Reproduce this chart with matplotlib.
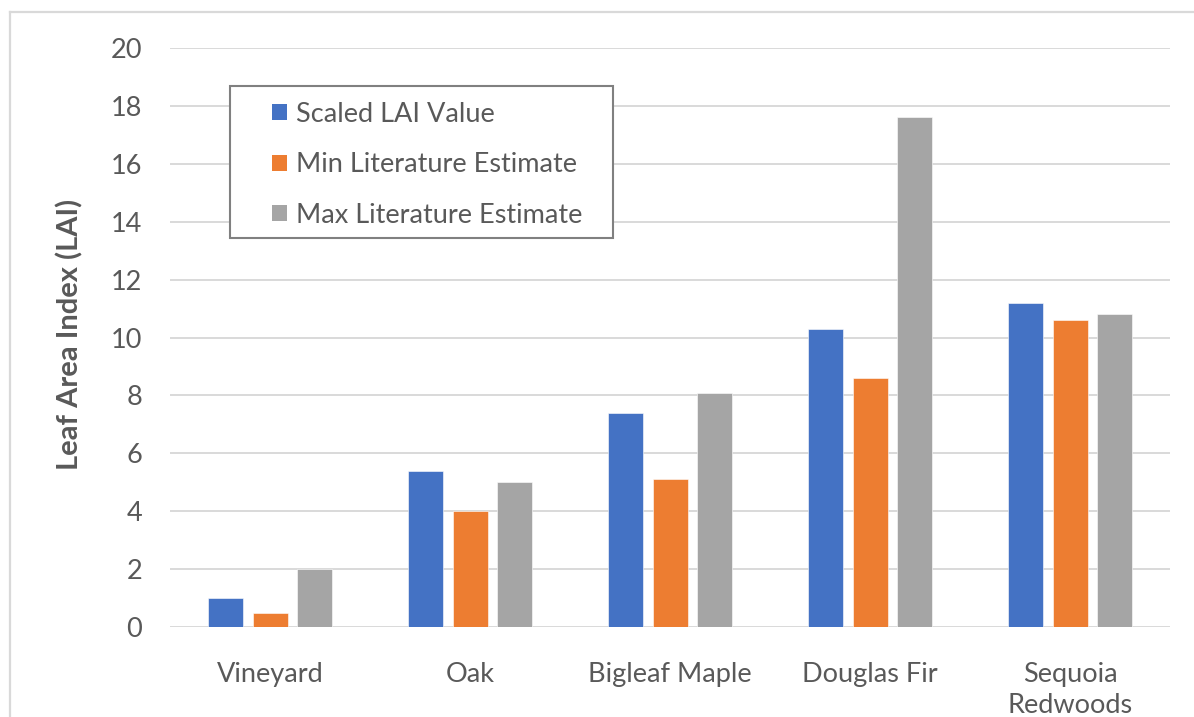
import matplotlib
matplotlib.use("Agg")
import matplotlib.pyplot as plt
from matplotlib.lines import Line2D
from matplotlib.patches import Rectangle
import numpy as np

plt.rcParams['font.family'] = ['Lato', 'DejaVu Sans']

# data
categories = ['Vineyard', 'Oak', 'Bigleaf Maple', 'Douglas Fir', 'Sequoia\nRedwoods']
scaled_lai = [1.0, 5.4, 7.4, 10.3, 11.2]
min_lit = [0.5, 4.0, 5.1, 8.6, 10.6]
max_lit = [2.0, 5.0, 8.1, 17.6, 10.8]
series_names = ['Scaled LAI Value', 'Min Literature Estimate', 'Max Literature Estimate']
colors = ['#4472C4', '#ED7D31', '#A5A5A5']

txt = '#595959'
grid = '#D9D9D9'
W, H = 1194, 717

fig = plt.figure(figsize=(W / 100, H / 100), dpi=100)
ax = fig.add_axes([170/W, 1 - 627/H, 1000/W, 579/H])

x = np.arange(len(categories))
step = 0.2215
width = 0.175
for i, (vals, c) in enumerate(zip([scaled_lai, min_lit, max_lit], colors)):
    ax.bar(x + (i - 1) * step, vals, width, color=c, zorder=3,
           edgecolor='white', linewidth=0.4)

ax.set_xlim(-0.5, len(categories) - 0.5)
ax.set_ylim(0, 20)
ax.set_yticks(np.arange(0, 21, 2))
ax.set_xticks(x)
ax.set_xticklabels(categories, linespacing=1.3)
ax.tick_params(axis='both', length=0, labelsize=19.5, colors=txt)
ax.tick_params(axis='y', pad=20)
ax.tick_params(axis='x', pad=25.5)
ax.grid(axis='y', color=grid, linewidth=1.4, zorder=0)
for s in ax.spines.values():
    s.set_visible(False)

fig.text(70/W, 1 - 334/H, 'Leaf Area Index (LAI)', rotation=90, ha='center', va='center',
         fontsize=21, fontweight='bold', color=txt)

# legend box drawn by hand, Excel style
fig.add_artist(Rectangle((230/W, 1 - 238/H), 383/W, 152/H, transform=fig.transFigure,
                         facecolor='white', edgecolor='#808080', linewidth=1.5, zorder=5))
for i, (name, c) in enumerate(zip(series_names, colors)):
    yc = 112 + i * 50.5
    fig.add_artist(Rectangle((272/W, 1 - (yc + 8)/H), 15/W, 16/H, transform=fig.transFigure,
                             facecolor=c, edgecolor='none', zorder=6))
    fig.text(296/W, 1 - yc/H, name, ha='left', va='center_baseline', fontsize=19.5,
             color=txt, zorder=6)

# outer chart frame (left and top edges visible)
fig.add_artist(Line2D([9.5/W, 9.5/W], [0, 1 - 12/H], transform=fig.transFigure,
                      color=grid, linewidth=1.6))
fig.add_artist(Line2D([9.5/W, 1], [1 - 12/H, 1 - 12/H], transform=fig.transFigure,
                      color=grid, linewidth=1.6))

fig.savefig('out.png', dpi=100)
